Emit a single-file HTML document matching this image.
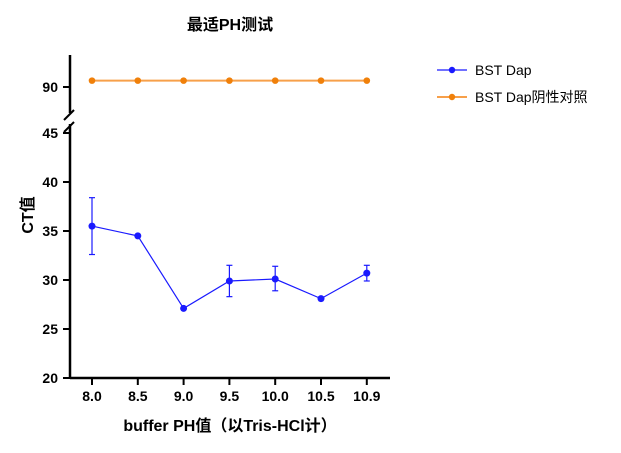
<!DOCTYPE html>
<html><head><meta charset="utf-8"><style>
body{margin:0;background:#fff;}
svg text{font-family:"Liberation Sans","Noto Sans CJK SC",sans-serif;}
</style></head><body>
<svg id="c" width="621" height="448" viewBox="0 0 621 448">
<text x="230" y="30" text-anchor="middle" font-size="16" font-weight="bold">最适PH测试</text>
<text transform="translate(33,215) rotate(-90)" text-anchor="middle" font-size="16" font-weight="bold">CT值</text>
<text x="230" y="431" text-anchor="middle" font-size="16" font-weight="bold">buffer PH值（以Tris-HCl计）</text>
<g id="axes"></g>
<g id="marks"></g>
<g>
<g>
<line x1="437" y1="70" x2="467" y2="70" stroke="#1a1aff" stroke-width="1.2"/><circle cx="452" cy="70" r="3.2" fill="#1a1aff"/>
<text x="475" y="75" font-size="14">BST Dap</text></g>
<g>
<line x1="437" y1="97" x2="467" y2="97" stroke="#f7a04a" stroke-width="2"/><circle cx="452" cy="97" r="3.2" fill="#f0800a"/>
<text x="475" y="102" font-size="14">BST Dap阴性对照</text></g>
</g>
</svg>
<script>
const categories=["8.0","8.5","9.0","9.5","10.0","10.5","10.9"];
const blueMean=[35.5,34.5,27.1,29.9,30.1,28.1,30.7];
const blueLow=[32.6,34.5,27.1,28.3,28.9,28.1,29.9];
const blueHigh=[38.4,34.5,27.1,31.5,31.4,28.1,31.5];
const orangeMean=[90.65,90.65,90.65,90.65,90.65,90.65,90.65];
const lowTicks=[20,25,30,35,40,45];
const highTicks=[90];
const NS="http://www.w3.org/2000/svg";
const ax=document.getElementById('axes'),mk=document.getElementById('marks');
function el(p,t,a){const e=document.createElementNS(NS,t);for(const k in a)e.setAttribute(k,a[k]);p.appendChild(e);return e;}
const x=i=>92+i*45.8;
const yLow=v=>378-(v-20)*9.8;
const yHigh=v=>87-(v-90)*9.8;
let l=el(ax,'line',{x1:70,y1:378,x2:390,y2:378,stroke:'#000','stroke-width':2.5});

l=el(ax,'line',{x1:70,y1:378,x2:70,y2:124,stroke:'#000','stroke-width':2.5});

l=el(ax,'line',{x1:70,y1:55,x2:70,y2:113,stroke:'#000','stroke-width':2.5});

el(ax,'line',{x1:64,y1:120,x2:74,y2:110,stroke:'#000','stroke-width':2});
el(ax,'line',{x1:64,y1:132,x2:74,y2:122,stroke:'#000','stroke-width':2});
lowTicks.forEach(v=>{const y=yLow(v);el(ax,'line',{x1:63,y1:y,x2:70,y2:y,stroke:'#000','stroke-width':2});
const t=el(ax,'text',{x:58,y:y+5,'text-anchor':'end','font-size':14,'font-weight':'bold'});t.textContent=v;
});
highTicks.forEach(v=>{const y=yHigh(v);el(ax,'line',{x1:63,y1:y,x2:70,y2:y,stroke:'#000','stroke-width':2});
const t=el(ax,'text',{x:58,y:y+5,'text-anchor':'end','font-size':14,'font-weight':'bold'});t.textContent=v;
});
categories.forEach((c,i)=>{el(ax,'line',{x1:x(i),y1:378,x2:x(i),y2:385,stroke:'#000','stroke-width':2});
const t=el(ax,'text',{x:x(i),y:401,'text-anchor':'middle','font-size':14,'font-weight':'bold'});t.textContent=c;
});
let p=el(mk,'polyline',{points:orangeMean.map((v,i)=>x(i)+','+yHigh(v)).join(' '),fill:'none',stroke:'#f7a04a','stroke-width':2});

orangeMean.forEach((v,i)=>{const c=el(mk,'circle',{cx:x(i),cy:yHigh(v),r:3.3,fill:'#f0800a'});
});
p=el(mk,'polyline',{points:blueMean.map((v,i)=>x(i)+','+yLow(v)).join(' '),fill:'none',stroke:'#1a1aff','stroke-width':1.2});

blueMean.forEach((v,i)=>{
if(blueHigh[i]-blueLow[i]>0.2){const g=el(mk,'g',{stroke:'#1a1aff','stroke-width':1.2});

el(g,'line',{x1:x(i),y1:yLow(blueLow[i]),x2:x(i),y2:yLow(blueHigh[i])});
el(g,'line',{x1:x(i)-3,y1:yLow(blueLow[i]),x2:x(i)+3,y2:yLow(blueLow[i])});
el(g,'line',{x1:x(i)-3,y1:yLow(blueHigh[i]),x2:x(i)+3,y2:yLow(blueHigh[i])});}
const c=el(mk,'circle',{cx:x(i),cy:yLow(v),r:3.5,fill:'#1a1aff'});
});
</script>
</body></html>
